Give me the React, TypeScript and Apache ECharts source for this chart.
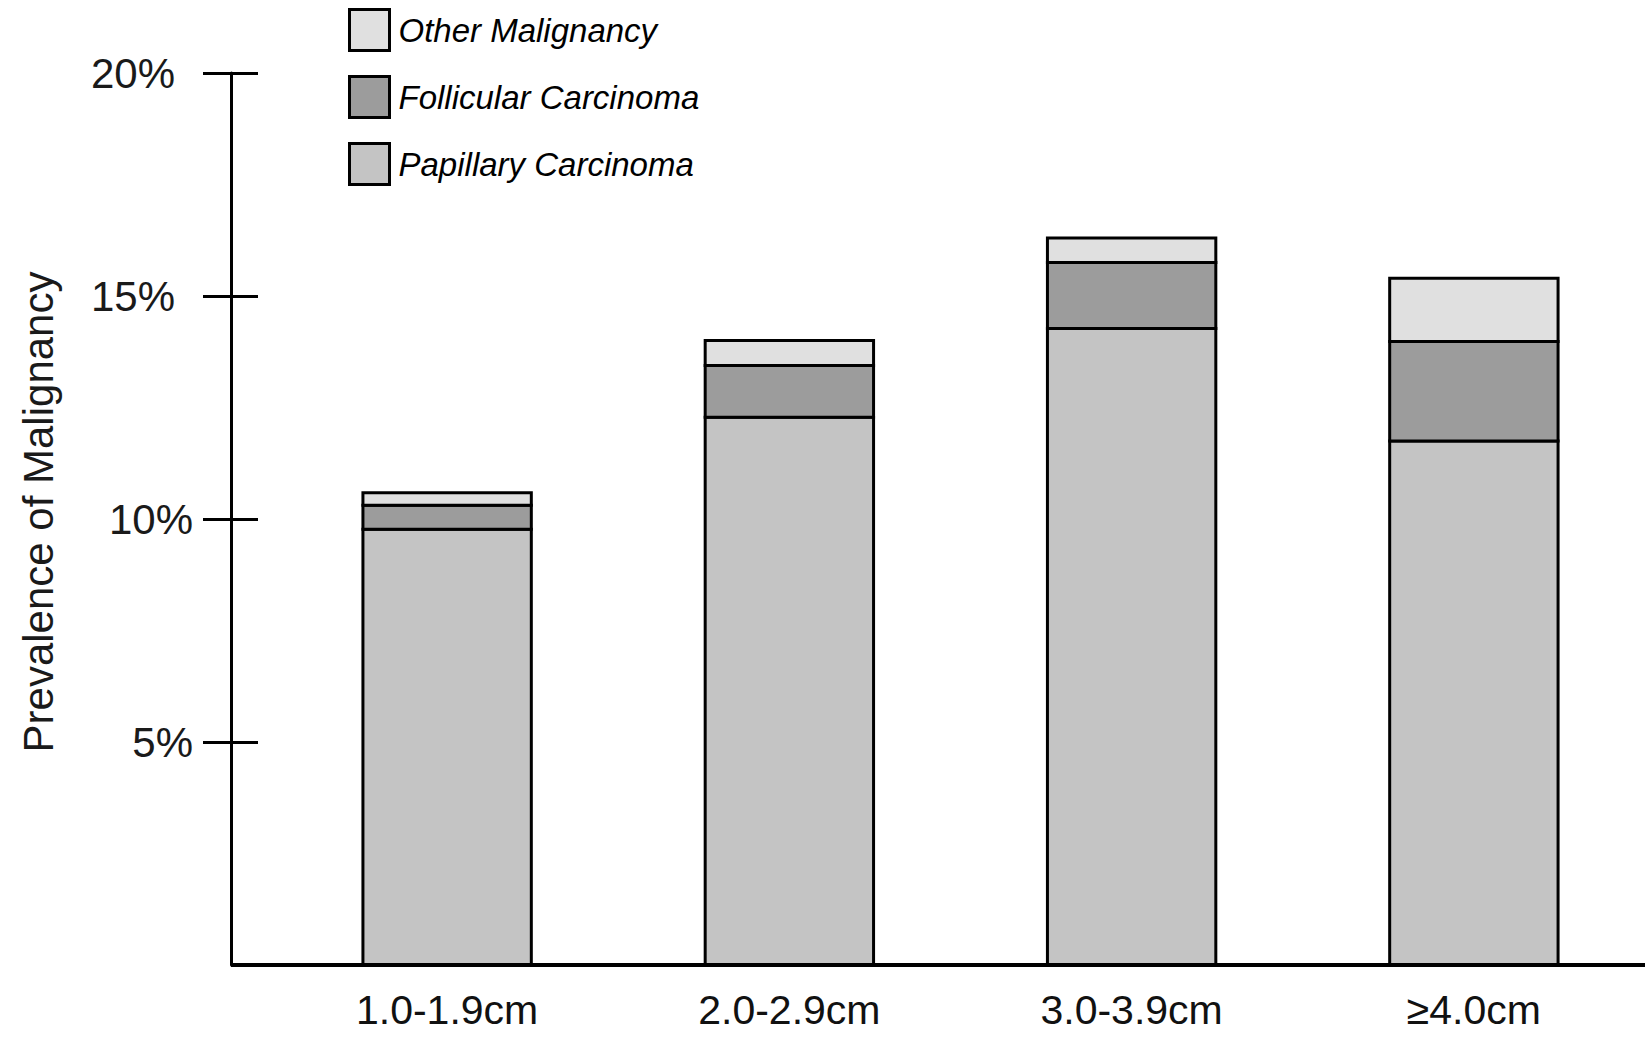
import React, { useEffect, useRef } from "react";
import * as echarts from "echarts";

const categories = ["1.0-1.9cm", "2.0-2.9cm", "3.0-3.9cm", "≥4.0cm"];
const papillary = [9.77, 12.28, 14.27, 11.75];
const follicular = [0.54, 1.16, 1.48, 2.23];
const otherMalignancy = [0.28, 0.56, 0.55, 1.42];
const yTicks = [5, 10, 15, 20];
const seriesNames = ["Papillary Carcinoma", "Follicular Carcinoma", "Other Malignancy"];
const seriesColors = ["#c4c4c4", "#9c9c9c", "#e0e0e0"];

const FONT = "'Liberation Sans', Arial, sans-serif";

export default function App() {
  const ref = useRef<HTMLDivElement>(null);
  useEffect(() => {
    if (!ref.current) return;
    const chart = echarts.init(ref.current, null, { renderer: "svg" });
    const dataSets = [papillary, follicular, otherMalignancy];
    // build stacked [index, low, high] triples from the named arrays
    const running = categories.map(() => 0);
    const stacked = dataSets.map((d) =>
      d.map((v, j) => {
        const lo = running[j];
        running[j] = lo + v;
        return [j, lo, lo + v];
      })
    );
    const yCommon = {
      type: "value",
      min: 0,
      max: 20,
      interval: 5,
      position: "left",
      offset: 45,
      splitLine: { show: false },
    };
    chart.setOption({
      animation: false,
      backgroundColor: "#ffffff",
      textStyle: { fontFamily: FONT },
      grid: { left: 276, width: 1376, top: 73, height: 892, containLabel: false },
      legend: {
        orient: "vertical",
        left: 343,
        top: 3,
        itemWidth: 40,
        itemHeight: 41,
        itemGap: 23,
        icon: "rect",
        data: ["Other Malignancy", "Follicular Carcinoma", "Papillary Carcinoma"],
        itemStyle: { borderColor: "#000", borderWidth: 3 },
        textStyle: { fontSize: 33, fontStyle: "italic", color: "#000", fontFamily: FONT, padding: [0, 0, 0, 4] },
      },
      xAxis: {
        type: "category",
        data: categories,
        axisLine: { show: false },
        axisTick: { show: false },
        axisLabel: { fontSize: 41, color: "#111", margin: 24, fontFamily: FONT },
      },
      yAxis: [
        {
          ...yCommon,
          name: "Prevalence of Malignancy",
          nameLocation: "middle",
          nameGap: 172,
          nameTextStyle: { fontSize: 42, color: "#1a1a1a", fontFamily: FONT, padding: [0, 0, 0, 14] },
          axisLine: { show: true, lineStyle: { color: "#000", width: 3 } },
          axisTick: { show: true, inside: false, length: 28, lineStyle: { color: "#000", width: 3 }, customValues: yTicks },
          axisLabel: {
            show: true,
            margin: 38,
            customValues: yTicks,
            fontSize: 42,
            color: "#1a1a1a",
            fontFamily: FONT,
            formatter: (v: number) => (v >= 15 ? `{a|${v}%}` : `{b|${v}%}`),
            rich: {
              a: { fontSize: 42, color: "#1a1a1a", fontFamily: FONT, padding: [0, 18, 0, 0] },
              b: { fontSize: 42, color: "#1a1a1a", fontFamily: FONT },
            },
          },
        },
        {
          ...yCommon,
          axisLine: { show: false },
          axisTick: { show: true, inside: true, length: 27, lineStyle: { color: "#000", width: 3 }, customValues: yTicks },
          axisLabel: { show: false },
        },
      ],
      graphic: [
        {
          type: "line",
          shape: { x1: 231, y1: 965, x2: 1645, y2: 965 },
          style: { stroke: "#000", lineWidth: 4 },
          z: 100,
        },
      ],
      series: stacked.map((d, i) => ({
        name: seriesNames[i],
        type: "custom",
        yAxisIndex: 0,
        data: d,
        encode: { x: 0, y: [1, 2] },
        itemStyle: { color: seriesColors[i] },
        renderItem: (params: any, api: any) => {
          const x = api.value(0);
          const lo = api.value(1);
          const hi = api.value(2);
          const pTop = api.coord([x, hi]);
          const pBot = api.coord([x, lo]);
          const w = api.size([1, 0])[0] * 0.492;
          return {
            type: "rect",
            shape: { x: pTop[0] - w / 2, y: pTop[1], width: w, height: pBot[1] - pTop[1] },
            style: { fill: seriesColors[i], stroke: "#000", lineWidth: 3 },
          };
        },
      })),
    });
    return () => chart.dispose();
  }, []);
  return (
    <div
      ref={ref}
      style={{ position: "absolute", left: 0, top: 0, width: 1645, height: 1039 }}
    />
  );
}
